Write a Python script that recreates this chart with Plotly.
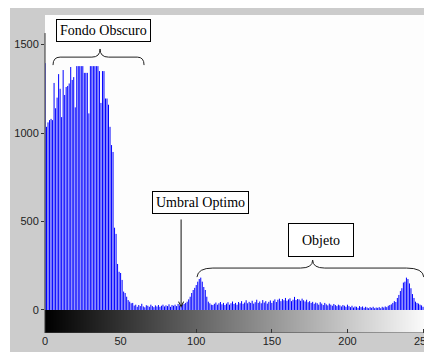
import plotly.graph_objects as go

# Gray levels and histogram counts
levels = list(range(256))
counts = [
    1395, 1035, 1060, 1073, 1080, 1073, 1283, 1140, 1200, 1333,
    1250, 1090, 1356, 1215, 1260, 1266, 1280, 1373, 1300, 1316,
    1145, 1378, 1378, 1378, 1378, 1378, 1340, 1340, 1340, 1111,
    1378, 1378, 1378, 1378, 1378, 1378, 1350, 1170, 1350, 1350,
    1195, 1195, 1160, 1035, 932, 893, 465, 430, 260, 216,
    209, 170, 104, 96, 75, 56, 47, 38, 40, 25,
    30, 18, 28, 22, 35, 20, 15, 27, 24, 18,
    30, 22, 16, 26, 20, 28, 18, 24, 30, 20,
    26, 22, 32, 18, 28, 24, 30, 22, 34, 26,
    20, 30, 34, 40, 47, 60, 75, 96, 113, 125,
    141, 160, 175, 183, 160, 130, 113, 75, 47, 38,
    30, 28, 35, 42, 30, 38, 45, 32, 40, 28,
    36, 44, 30, 38, 48, 34, 40, 30, 45, 38,
    50, 35, 42, 55, 38, 46, 40, 52, 36, 44,
    58, 40, 48, 38, 56, 42, 50, 36, 46, 54,
    40, 52, 60, 45, 58, 64, 50, 62, 55, 68,
    52, 60, 66, 50, 58, 74, 56, 62, 60, 52,
    64, 55, 48, 58, 44, 50, 40, 46, 35, 42,
    38, 30, 44, 36, 28, 40, 32, 26, 36, 30,
    24, 34, 28, 22, 30, 26, 20, 28, 24, 18,
    30, 22, 16, 24, 14, 20, 18, 12, 22, 16,
    20, 12, 18, 14, 10, 16, 12, 18, 10, 14,
    12, 16, 10, 18, 14, 20, 16, 24, 28, 32,
    40, 50, 45, 68, 85, 107, 123, 155, 160, 183,
    175, 150, 123, 90, 68, 47, 40, 36, 30, 26,
    18, 25, 40, 53, 58, 47,
]
x_ticks = [0, 50, 100, 150, 200, 250]
y_ticks = [0, 500, 1000, 1500]
labels = ["Fondo Obscuro", "Umbral Optimo", "Objeto"]

# stem lines (one vertical segment per gray level)
stem_x, stem_y = [], []
for lv, c in zip(levels, counts):
    stem_x += [lv, lv, None]
    stem_y += [0, c, None]

fig = go.Figure()

# gray-level ramp under the histogram
fig.add_trace(go.Heatmap(
    z=[levels], x0=0.5, dx=1, y=[-130, 0],
    colorscale=[[0, "black"], [1, "white"]],
    showscale=False, hoverinfo="skip",
))

fig.add_trace(go.Scatter(
    x=stem_x, y=stem_y, mode="lines",
    line=dict(color="#0000ff", width=1), hoverinfo="skip",
))

shapes = [
    # thin white strip at the far left
    dict(type="rect", xref="paper", yref="paper", x0=-0.2, x1=-0.0886, y0=-0.2, y1=1.2,
         fillcolor="white", line=dict(width=0), layer="below"),
    # left spine
    dict(type="line", xref="paper", yref="y", x0=0, x1=0, y0=-130, y1=1565,
         line=dict(color="#333333", width=1)),
    # bottom edge of ramp
    dict(type="line", xref="paper", yref="y", x0=0, x1=1, y0=-130, y1=-130,
         line=dict(color="#444444", width=1)),
    # brace over dark background
    dict(type="path", xref="x", yref="y",
         path="M 5.3,1384 Q 5.3,1429 10,1429 L 31,1429 Q 36.4,1429 36.4,1475 "
              "Q 36.4,1429 42,1429 L 61,1429 Q 65.5,1429 65.5,1384",
         line=dict(color="#222222", width=1)),
    # brace over object
    dict(type="path", xref="x", yref="y",
         path="M 100.5,186 Q 101,237 111,237 L 169,237 Q 177,237 177,282 "
              "Q 177,237 185,237 L 239,237 Q 250,237 250.5,186",
         line=dict(color="#222222", width=1)),
]

annotations = [
    dict(x=39, y=1582, xref="x", yref="y", text=labels[0], showarrow=False,
         font=dict(family="Liberation Serif", size=14, color="black"),
         bgcolor="white", bordercolor="black", borderwidth=1, borderpad=3),
    dict(x=102.5, y=610, xref="x", yref="y", text=labels[1], showarrow=False,
         font=dict(family="Liberation Serif", size=14, color="black"),
         bgcolor="white", bordercolor="black", borderwidth=1, borderpad=3),
    dict(x=182.5, y=395, xref="x", yref="y", text=labels[2], showarrow=False,
         font=dict(family="Liberation Serif", size=14, color="black"),
         width=58, height=26,
         bgcolor="white", bordercolor="black", borderwidth=1, borderpad=3),
    dict(x=90, y=12, xref="x", yref="y", ax=90, ay=520, axref="x", ayref="y",
         text="", showarrow=True, arrowhead=5, arrowsize=1, arrowwidth=1,
         arrowcolor="#111111"),
]

fig.update_layout(
    width=432, height=352,
    margin=dict(l=37, r=0, t=7, b=27),
    paper_bgcolor="#cccccc", plot_bgcolor="#fdfdfd",
    showlegend=False,
    shapes=shapes, annotations=annotations,
    xaxis=dict(range=[0, 261.2], tickvals=x_ticks, ticks="inside", ticklen=4,
               tickcolor="#333333", showgrid=False, zeroline=False,
               showline=False,
               tickfont=dict(family="Liberation Sans", size=11, color="#222222")),
    yaxis=dict(range=[-130, 1667], tickvals=y_ticks, ticks="outside", ticklen=3,
               tickcolor="#333333", showgrid=False, zeroline=False, showline=False,
               tickfont=dict(family="Liberation Sans", size=11, color="#222222")),
)

fig.write_html("out.html")
